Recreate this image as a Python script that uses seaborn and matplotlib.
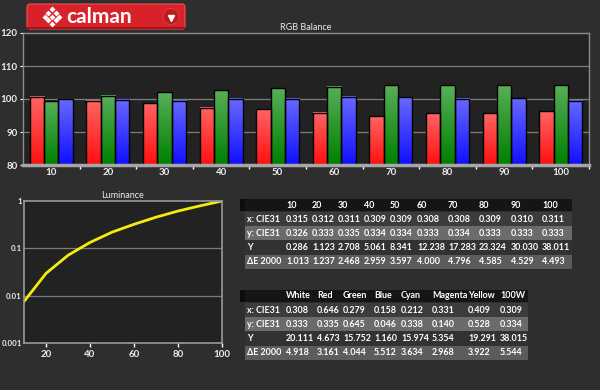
import numpy as np
import pandas as pd
import seaborn as sns
import matplotlib.pyplot as plt
from matplotlib.patches import Rectangle, FancyBboxPatch, Circle
from matplotlib.colors import LinearSegmentedColormap

# RGB balance per stimulus level
levels = [10, 20, 30, 40, 50, 60, 70, 80, 90, 100]
red_bal = [100.7, 99.4, 98.7, 97.3, 96.9, 95.9, 94.7, 95.7, 95.7, 96.3]
green_bal = [99.3, 101.0, 102.0, 102.6, 103.2, 103.7, 104.2, 104.2, 104.2, 104.2]
blue_bal = [99.9, 99.7, 99.4, 100.0, 100.0, 100.7, 100.5, 100.1, 100.2, 99.5]

# greyscale table
gs_x = ['0.315', '0.312', '0.311', '0.309', '0.309', '0.308', '0.308', '0.309', '0.310', '0.311']
gs_y = ['0.326', '0.333', '0.335', '0.334', '0.334', '0.333', '0.334', '0.333', '0.333', '0.333']
gs_Y = [0.286, 1.123, 2.708, 5.061, 8.341, 12.238, 17.283, 23.324, 30.030, 38.011]
gs_de = ['1.013', '1.237', '2.468', '2.959', '3.597', '4.000', '4.796', '4.585', '4.529', '4.493']

# colour table
cols = ['White', 'Red', 'Green', 'Blue', 'Cyan', 'Magenta', 'Yellow', '100W']
cl_x = ['0.308', '0.646', '0.279', '0.158', '0.212', '0.331', '0.409', '0.309']
cl_y = ['0.333', '0.335', '0.645', '0.046', '0.338', '0.140', '0.528', '0.334']
cl_Y = ['20.111', '4.673', '15.752', '1.160', '15.974', '5.354', '19.291', '38.015']
cl_de = ['4.918', '3.161', '4.044', '5.512', '3.634', '2.968', '3.922', '5.544']

row_names = ['x: CIE31', 'y: CIE31', 'Y', '\u0394E 2000']

bg = '#2e2e2e'
axbg = '#222222'
txt = '#ececec'
gridc = '#7c7c7c'

sns.set_style('dark', {'axes.facecolor': axbg, 'figure.facecolor': bg})
plt.rcParams['font.family'] = ['Lato', 'DejaVu Sans']
plt.rcParams['font.weight'] = 'bold'

fig = plt.figure(figsize=(6, 3.9), dpi=100)
fig.patch.set_facecolor(bg)

W, H = 600.0, 390.0
def px_axes(l, t, r, b):
    return fig.add_axes([l / W, 1 - b / H, (r - l) / W, (b - t) / H])

# ---------------- RGB balance bars ----------------
ax1 = px_axes(23, 33, 589, 165)
df = pd.DataFrame({
    'level': levels * 3,
    'value': red_bal + green_bal + blue_bal,
    'ch': ['R'] * 10 + ['G'] * 10 + ['B'] * 10,
})
sns.barplot(data=df, x='level', y='value', hue='ch', palette=['#ff2020', '#0a8a0a', '#2020ff'],
            width=0.76, saturation=1, edgecolor='black', linewidth=1.0, legend=False, ax=ax1)

grads = [('#ff6464', '#ff1010'), ('#58ae58', '#008000'), ('#6868ff', '#1010ff')]
for cont, (top, bot) in zip(ax1.containers, grads):
    cmap = LinearSegmentedColormap.from_list('g', [bot, top])
    for p in cont.patches:
        x0, w, h = p.get_x(), p.get_width(), p.get_height()
        grad = np.linspace(0, 1, 64).reshape(-1, 1)
        ax1.imshow(grad, cmap=cmap, origin='lower', aspect='auto',
                   extent=(x0, x0 + w, 80, h), zorder=2.5)
        p.set_facecolor('none')
        p.set_zorder(3)

ax1.set_xlim(-0.5, 9.5)
ax1.set_ylim(80, 120)
ax1.set_yticks([80, 90, 100, 110, 120])
ax1.set_xticks(range(10))
ax1.set_xticklabels([str(v) for v in levels])
ax1.set_xticks(np.arange(0.5, 9.6, 1), minor=True)
ax1.set_xlabel('')
ax1.set_ylabel('')
ax1.set_title('RGB Balance', fontsize=6.5, color=txt, pad=2)
ax1.grid(False)
for yv in [90, 100, 110]:
    ax1.axhline(yv, color=gridc, lw=0.9, zorder=1)
ax1.tick_params(axis='both', which='major', length=0, labelsize=7, labelcolor=txt, pad=2)
ax1.tick_params(axis='x', which='minor', length=3, color='white', width=1, direction='out', bottom=True)
ax1.tick_params(axis='y', which='major', length=2, color='white', left=True)
for s in ['top', 'right', 'left']:
    ax1.spines[s].set_color('#8c8c8c')
    ax1.spines[s].set_linewidth(1)
ax1.spines['bottom'].set_color('#a6a6a6')
ax1.spines['bottom'].set_linewidth(2.5)
ax1.spines['bottom'].set_zorder(4)

# ---------------- Luminance ----------------
ax2 = px_axes(24, 201, 222, 343)
lum = [v / gs_Y[-1] for v in gs_Y]
sns.lineplot(x=levels, y=lum, color='#f4ec10', lw=2, ax=ax2)
ax2.set_yscale('log')
ax2.set_ylim(0.001, 1)
ax2.set_xlim(10, 100)
ax2.set_yticks([0.001, 0.01, 0.1, 1])
ax2.set_yticklabels(['0.001', '0.01', '0.1', '1'])
ax2.minorticks_off()
ax2.set_xticks([20, 40, 60, 80, 100])
ax2.grid(False)
for yv in [0.01, 0.1]:
    ax2.axhline(yv, color=gridc, lw=0.9, zorder=1)
ax2.set_title('Luminance', fontsize=6.5, color=txt, pad=2)
ax2.tick_params(axis='x', length=3, color='white', width=1, labelsize=7, labelcolor=txt, pad=2, bottom=True)
ax2.tick_params(axis='y', length=1, color='white', labelsize=5.7, labelcolor=txt, pad=0.5, left=True)
for s in ax2.spines.values():
    s.set_color('#9a9a9a')
    s.set_linewidth(1.2)

# ---------------- overlay: logo and tables ----------------
ov = fig.add_axes([0, 0, 1, 1], facecolor='none')
ov.set_xlim(0, W)
ov.set_ylim(H, 0)
ov.axis('off')

ov.add_patch(FancyBboxPatch((27, 4), 158, 25, boxstyle='round,pad=0,rounding_size=3',
                            fc='#d8222a', ec='#f05058', lw=0.8))
ov.add_patch(Rectangle((27, 27), 158, 2, fc='#a8141a', ec='none'))
# diamond lattice icon
for i in range(3):
    for j in range(3):
        ov.plot(52 + (i - j) * 3.6, 16.5 + (i + j - 2) * 3.6, marker='D', ms=3.0,
                mfc='white', mew=0, ls='none')
ov.text(66, 17, 'calman', color='white', fontsize=15, fontweight='bold',
        va='center', ha='left', family=['Lato', 'DejaVu Sans'])
ov.add_patch(Circle((171, 16.5), 8, fc='#bd1a22', ec='#e04048', lw=0.6))
ov.plot(171, 17.5, marker='v', ms=5, mfc='white', mec='white', ls='none')

row_bg = ['#3c3c3c', '#6b6b6b', '#323232', '#5c5c5c']

def draw_table(top, right, headers, xpos, rows, row_h=14.2, head_h=12):
    ov.add_patch(Rectangle((240, top), 5, head_h, fc='#0c0c0c', ec='none'))
    ov.add_patch(Rectangle((245, top), right - 245, head_h, fc='#151515', ec='none'))
    for hx, hname in zip(xpos, headers):
        ov.text(hx, top + head_h / 2, hname, color='white', fontsize=6.4,
                fontweight='bold', va='center', ha='left')
    y = top + head_h + 1
    for r, (name, vals) in enumerate(zip(row_names, rows)):
        ov.add_patch(Rectangle((245, y), right - 245, row_h, fc=row_bg[r], ec='none'))
        ov.text(247, y + row_h / 2, name, color='white', fontsize=6.4,
                fontweight='bold', va='center', ha='left')
        for hx, v in zip(xpos, vals):
            ov.text(hx, y + row_h / 2, v, color='white', fontsize=6.4,
                    fontweight='bold', va='center', ha='left')
        y += row_h

gs_cols_x = [286, 312, 338, 364, 390, 417, 448, 479, 511, 542]
gs_Y_txt = ['%.3f' % v for v in gs_Y]
draw_table(199, 572, [str(v) for v in levels], gs_cols_x, [gs_x, gs_y, gs_Y_txt, gs_de])

cl_cols_x = [286, 317, 343, 374, 401, 432, 468, 500]
draw_table(290, 528, cols, cl_cols_x, [cl_x, cl_y, cl_Y, cl_de])

fig.savefig('out.png', dpi=100, facecolor=bg)
